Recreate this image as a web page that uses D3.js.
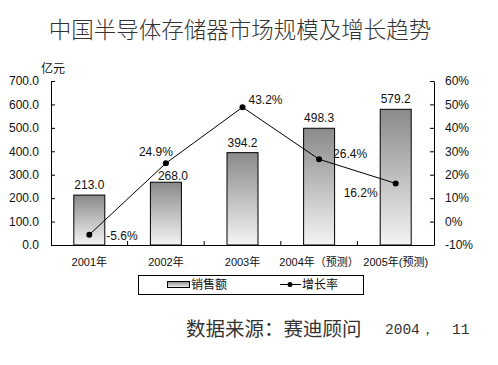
<!DOCTYPE html>
<html><head><meta charset="utf-8">
<script src="https://cdn.jsdelivr.net/npm/d3@7/dist/d3.min.js"></script>
<style>
html,body{margin:0;padding:0;background:#fff;}
svg{display:block;}
text{font-family:"Liberation Sans","Noto Sans CJK SC",sans-serif;fill:#111;}
</style>
</head><body>
<svg id="c" width="498" height="365"></svg>
<script>
const categories = ["2001年","2002年","2003年","2004年（预测）","2005年(预测)"];
const sales = [213.0, 268.0, 394.2, 498.3, 579.2];
const salesLabels = ["213.0","268.0","394.2","498.3","579.2"];
const growth = [-5.6, 24.9, 48.8, 26.6, 16.3];
const growthLabels = ["-5.6%","24.9%","43.2%","26.4%","16.2%"];
const leftTicks = [0,100,200,300,400,500,600,700];
const rightTicks = [-10,0,10,20,30,40,50,60];
const titleText = "中国半导体存储器市场规模及增长趋势";
const unitText = "亿元";
const legendNames = ["销售额","增长率"];
const sourceText = "数据来源：赛迪顾问";
const sourceDate = ["2004，","11"];

const svg = d3.select("#c");
const L = 51, R = 434, T = 81, B = 245;

const defs = svg.append("defs");
const grad = defs.append("linearGradient").attr("id","bg").attr("x1",0).attr("y1",0).attr("x2",0).attr("y2",1);
grad.append("stop").attr("offset","0%").attr("stop-color","#8a8a8a");
grad.append("stop").attr("offset","100%").attr("stop-color","#f4f4f4");

const x = d3.scaleBand().domain(categories).range([L,R]).paddingInner(0).paddingOuter(0);
const yL = d3.scaleLinear().domain([0,700]).range([B,T]);
const yR = d3.scaleLinear().domain([-10,60]).range([B,T]);

// title
svg.append("text").attr("x",240).attr("y",38).attr("text-anchor","middle")
  .style("font-family","'Noto Sans CJK SC'").style("font-size","22.5px").style("font-weight","300").style("fill","#333")
  .text(titleText);

// unit
svg.append("text").attr("x",41).attr("y",73).style("font-family","'Noto Sans CJK SC'").style("font-size","12px").text(unitText);

// bars
const bw = 31;
svg.append("g").selectAll("rect").data(sales).join("rect")
  .attr("x",(d,i)=>x(categories[i])+x.bandwidth()/2-bw/2)
  .attr("y",d=>yL(d)).attr("width",bw).attr("height",d=>B-yL(d))
  .attr("fill","url(#bg)").attr("stroke","#000").attr("stroke-width",1);

// bar labels
const sOff = [[0,-6],[7,-2],[0,-6],[0,-6],[0,-6]];
svg.append("g").selectAll("text").data(sales).join("text")
  .attr("x",(d,i)=>x(categories[i])+x.bandwidth()/2+sOff[i][0])
  .attr("y",(d,i)=>yL(d)+sOff[i][1]).attr("text-anchor","middle").style("font-size","12px")
  .text((d,i)=>salesLabels[i]);

// axes
const gl = svg.append("g").attr("transform",`translate(${L},0)`)
  .call(d3.axisLeft(yL).tickValues(leftTicks).tickFormat(d3.format(".1f")).tickSizeInner(-4).tickSizeOuter(0).tickPadding(12));
const gr = svg.append("g").attr("transform",`translate(${R},0)`)
  .call(d3.axisRight(yR).tickValues(rightTicks).tickFormat(d=>d+"%").tickSizeInner(-4).tickSizeOuter(0).tickPadding(11));
const gb = svg.append("g").attr("transform",`translate(0,${B})`)
  .call(d3.axisBottom(x).tickSize(0).tickPadding(13));
[gl,gr,gb].forEach(g=>{
  g.select(".domain").attr("stroke","#000");
  g.selectAll(".tick line").attr("stroke","#000");
  g.selectAll("text").style("font-size","12px").style("font-family","'Liberation Sans','Noto Sans CJK SC',sans-serif").attr("fill","#111");
});
gb.selectAll("text").style("font-size","11px");
// category boundary ticks (inward)
const bounds = categories.slice(1).map(c=>x(c));
svg.append("g").selectAll("line").data(bounds).join("line")
  .attr("x1",d=>d).attr("x2",d=>d).attr("y1",B).attr("y2",B-4).attr("stroke","#000");

// growth line
const line = d3.line().x((d,i)=>x(categories[i])+x.bandwidth()/2).y(d=>yR(d));
svg.append("path").datum(growth).attr("d",line).attr("fill","none").attr("stroke","#000").attr("stroke-width",1);
svg.append("g").selectAll("circle").data(growth).join("circle")
  .attr("cx",(d,i)=>x(categories[i])+x.bandwidth()/2).attr("cy",d=>yR(d)).attr("r",3).attr("fill","#000");

// growth labels
const gOff = [[17,5,"start"],[-10,-7,"middle"],[6,-3,"start"],[14,-1,"start"],[-18,14,"end"]];
svg.append("g").selectAll("text").data(growth).join("text")
  .attr("x",(d,i)=>x(categories[i])+x.bandwidth()/2+gOff[i][0])
  .attr("y",d=>yR(d)).attr("dy",(d,i)=>gOff[i][1])
  .attr("text-anchor",(d,i)=>gOff[i][2]).style("font-size","12px")
  .text((d,i)=>growthLabels[i]);

// legend
const lg = svg.append("g");
lg.append("rect").attr("x",138.5).attr("y",275.5).attr("width",225).attr("height",19).attr("fill","#fff").attr("stroke","#000");
lg.append("rect").attr("x",167.5).attr("y",281.5).attr("width",22).attr("height",6).attr("fill","url(#bg)").attr("stroke","#000");
lg.append("text").attr("x",191).attr("y",289).style("font-family","'Noto Sans CJK SC'").style("font-size","12px").text(legendNames[0]);
lg.append("line").attr("x1",280).attr("x2",301).attr("y1",284.5).attr("y2",284.5).attr("stroke","#000");
lg.append("circle").attr("cx",290).attr("cy",284.5).attr("r",2.5).attr("fill","#000");
lg.append("text").attr("x",302).attr("y",289).style("font-family","'Noto Sans CJK SC'").style("font-size","12px").text(legendNames[1]);

// source
svg.append("text").attr("x",186).attr("y",336).style("font-family","'Noto Sans CJK SC'").style("font-size","19.5px").style("fill","#333").text(sourceText);
const st = svg.append("text").attr("y",334).style("font-family","'Liberation Mono',monospace").style("font-size","14.5px").style("fill","#333");
st.append("tspan").attr("x",385).text(sourceDate[0]);
st.append("tspan").attr("x",452).text(sourceDate[1]);
</script>
</body></html>
